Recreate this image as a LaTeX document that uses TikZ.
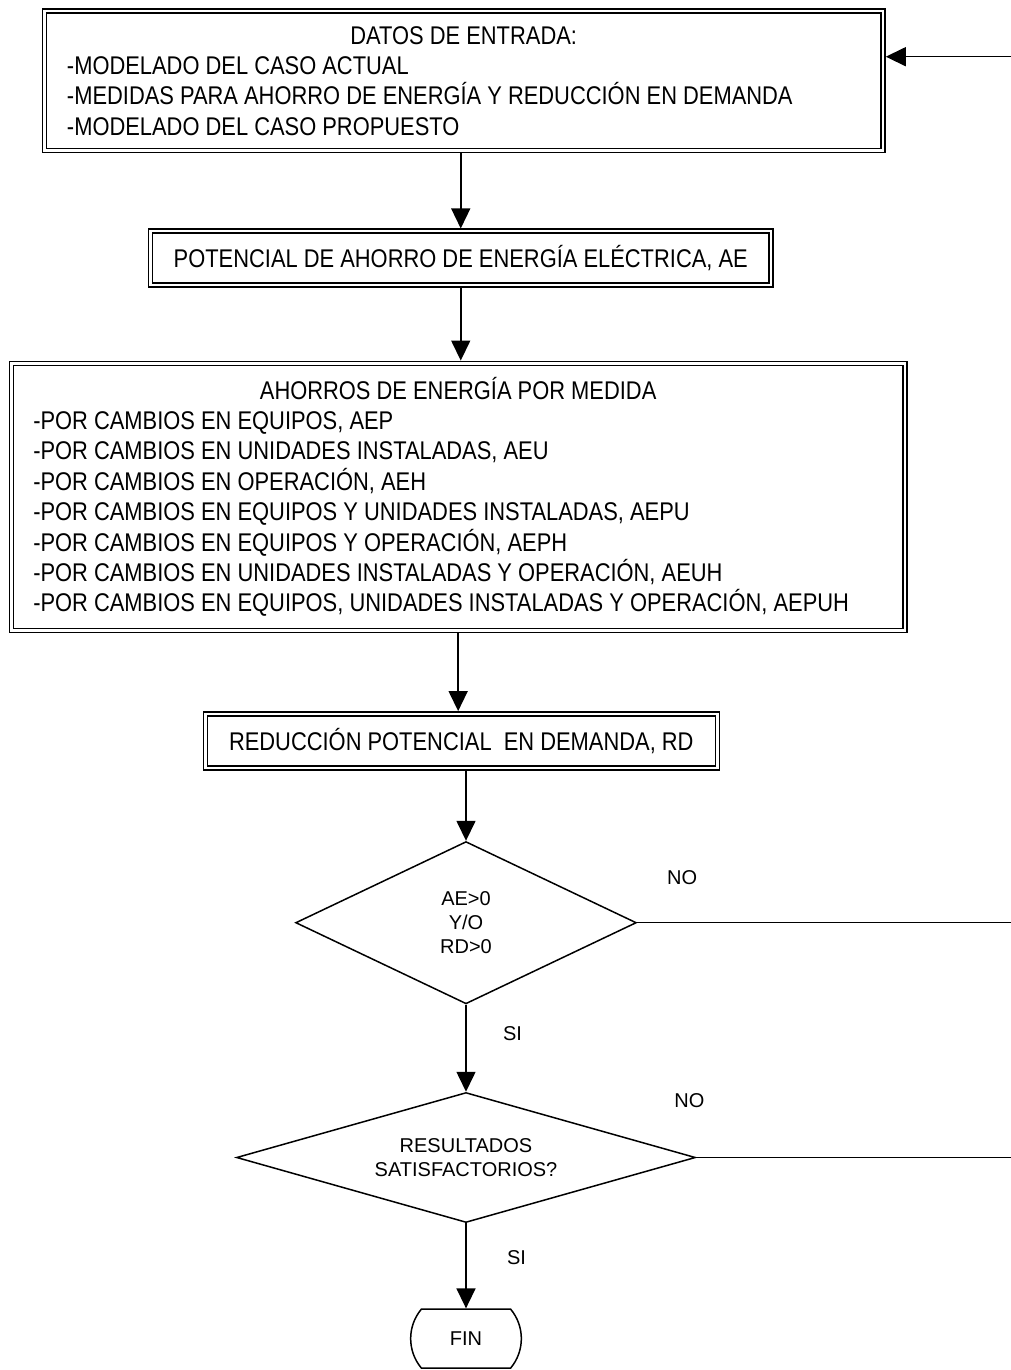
\documentclass[tikz,border=0pt]{standalone}
\usepackage{fontspec}
\usepackage{tikz}
\usetikzlibrary{arrows.meta}
\usetikzlibrary{shapes.geometric}
\usetikzlibrary{shapes.misc}
\newfontfamily\boxfont{Liberation Sans}[FakeStretch=0.855]
\newfontfamily\flowfont{Liberation Sans}
\tikzset{
  dblbox/.style={draw, line width=0.75pt, double, double distance=1.25pt, inner sep=0pt,
    font=\boxfont\fontsize{12.8pt}{15.2pt}\selectfont},
  decision/.style={diamond, draw, line width=0.75pt, inner sep=0pt, align=center,
    font=\flowfont\fontsize{10pt}{12pt}\selectfont},
  terminal/.style={rounded rectangle, rounded rectangle arc length=80, draw, line width=0.75pt,
    font=\flowfont\fontsize{10pt}{12pt}\selectfont},
  flecha/.style={line width=0.75pt, -{Triangle[length=10pt,width=9.5pt]}},
  linea/.style={line width=0.75pt},
  etiqueta/.style={anchor=base west, inner sep=0pt, font=\flowfont\fontsize{10pt}{12pt}\selectfont}
}

\begin{document}
\begin{tikzpicture}[x=0.5pt,y=-0.5pt]
\useasboundingbox (0,0) rectangle (1011,1370);
%%% Draws boxes
% data input
\node[dblbox, minimum width=419.35pt, minimum height=69.55pt, text width=396.7pt, align=flush left] (datos) at (463.7,80.8)
  {\makebox[\linewidth]{DATOS DE ENTRADA:}\\
   -MODELADO DEL CASO ACTUAL\\
   -MEDIDAS PARA AHORRO DE ENERGÍA Y REDUCCIÓN EN DEMANDA\\
   -MODELADO DEL CASO PROPUESTO};
% savings potential
\node[dblbox, minimum width=310.25pt, minimum height=27pt] (potencial) at (460.75,258.2)
  {POTENCIAL DE AHORRO DE ENERGÍA ELÉCTRICA, AE};
% savings per measure
\node[dblbox, minimum width=446.85pt, minimum height=133.6pt, text width=424.85pt, align=flush left] (ahorros) at (458.15,496.9)
  {\makebox[\linewidth]{AHORROS DE ENERGÍA POR MEDIDA}\\
   -POR CAMBIOS EN EQUIPOS, AEP\\
   -POR CAMBIOS EN UNIDADES INSTALADAS, AEU\\
   -POR CAMBIOS EN OPERACIÓN, AEH\\
   -POR CAMBIOS EN EQUIPOS Y UNIDADES INSTALADAS, AEPU\\
   -POR CAMBIOS EN EQUIPOS Y OPERACIÓN, AEPH\\
   -POR CAMBIOS EN UNIDADES INSTALADAS Y OPERACIÓN, AEUH\\
   -POR CAMBIOS EN EQUIPOS, UNIDADES INSTALADAS Y OPERACIÓN, AEPUH};
% demand reduction
\node[dblbox, minimum width=256pt, minimum height=27pt] (reduccion) at (461.3,740.85)
  {REDUCCIÓN POTENCIAL~ EN DEMANDA, RD};
%%% Draws decisions
\node[decision, minimum width=170.35pt, minimum height=81.15pt, shape aspect=2.1] (cond) at (466,922.7)
  {AE>0\\Y/O\\RD>0};
\node[decision, minimum width=229.5pt, minimum height=65pt, shape aspect=3.5] (result) at (466,1157.5)
  {RESULTADOS\\SATISFACTORIOS?};
\node[terminal, minimum width=62pt, minimum height=29.5pt] (fin) at (466,1338.6) {FIN};
% return line ends
\coordinate (fbtop) at (1011,56.7);
\coordinate (fbcond) at (1011,922.7);
\coordinate (fbresult) at (1011,1157.5);
%%% Draws arrows
\draw[flecha, shorten <=1pt, shorten >=1pt] (datos.south -| potencial) -- (potencial.north);
\draw[flecha, shorten <=1pt, shorten >=1pt] (potencial.south) -- (potencial.south |- ahorros.north);
\draw[flecha, shorten <=1pt, shorten >=1pt] (ahorros.south) -- (ahorros.south |- reduccion.north);
\draw[flecha, shorten <=1pt] (reduccion.south -| cond.north) -- (cond.north);
\draw[flecha] (cond.south) -- (result.north);
\draw[flecha] (result.south) -- (fin.north);
\draw[flecha, shorten >=1pt] (fbtop) -- (datos.east |- fbtop);
\draw[linea] (cond.east) -- (fbcond);
\draw[linea] (result.east) -- (fbresult);
% labels
\node[etiqueta] (no1) at (666.7,884) {NO};
\node[etiqueta] (si1) at (502.7,1040) {SI};
\node[etiqueta] (no2) at (674,1107.3) {NO};
\node[etiqueta] (si2) at (506.7,1264.3) {SI};
\end{tikzpicture}
\end{document}
